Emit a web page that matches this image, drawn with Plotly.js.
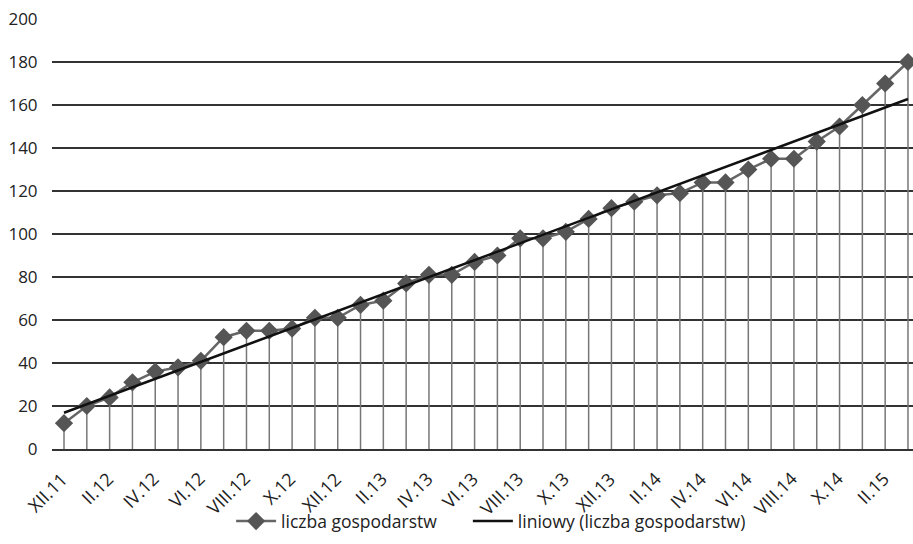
<!DOCTYPE html>
<html>
<head>
<meta charset="utf-8">
<script src="https://cdn.plot.ly/plotly-3.0.1.min.js"></script>
<style>html,body{margin:0;padding:0;background:#fff;}#chart{width:913px;height:544px;}</style>
</head>
<body>
<div id="chart"></div>
<script>
const categories = ["XII.11","I.12","II.12","III.12","IV.12","V.12","VI.12","VII.12","VIII.12","IX.12",
  "X.12","XI.12","XII.12","I.13","II.13","III.13","IV.13","V.13","VI.13","VII.13",
  "VIII.13","IX.13","X.13","XI.13","XII.13","I.14","II.14","III.14","IV.14","V.14",
  "VI.14","VII.14","VIII.14","IX.14","X.14","XI.14","II.15","III.15"];
const values = [12,20,24,31,36,38,41,52,55,55,56,61,61,67,69,77,81,81,87,90,98,98,101,107,112,115,118,119,124,124,130,135,135,143,150,160,170,180];
const yTicks = [0,20,40,60,80,100,120,140,160,180,200];
const seriesName = "liczba gospodarstw";
const trendName = "liniowy (liczba gospodarstw)";

// linear trend (least squares) computed from the data
const n = values.length;
const idx = values.map((_, i) => i);
const mx = idx.reduce((a, b) => a + b, 0) / n;
const my = values.reduce((a, b) => a + b, 0) / n;
let sxy = 0, sxx = 0;
idx.forEach(i => { sxy += (i - mx) * (values[i] - my); sxx += (i - mx) * (i - mx); });
const slope = sxy / sxx, intercept = my - slope * mx;
const trend = idx.map(i => intercept + slope * i);

const tickIdx = idx.filter(i => i % 2 === 0);
const tickText = tickIdx.map(i => categories[i]);

const font = "Open Sans";

const traces = [
  {
    x: idx, y: values, type: 'scatter', mode: 'lines+markers', name: seriesName,
    text: categories, legend: 'legend',
    line: {color: '#666666', width: 2.5},
    marker: {symbol: 'diamond', size: 14, color: '#555555'},
    error_y: {type: 'data', symmetric: false, array: values.map(() => 0), arrayminus: values,
              width: 0, color: '#777777', thickness: 1.5}
  },
  {
    x: idx, y: trend, type: 'scatter', mode: 'lines', name: trendName, legend: 'legend2',
    line: {color: '#111111', width: 2.5}
  }
];

const annotations = tickIdx.map((v, k) => ({
  x: v, y: 0, xref: 'x', yref: 'y', text: tickText[k], showarrow: false,
  textangle: -45, xanchor: 'right', yanchor: 'top', xshift: 11, yshift: -15,
  font: {family: font, size: 18, color: '#222222'}
}));

const legendFont = {family: font, size: 17.5, color: '#222222'};

const layout = {
  width: 913, height: 544,
  margin: {l: 52, r: 0, t: 19, b: 95},
  paper_bgcolor: '#ffffff', plot_bgcolor: '#ffffff',
  font: {family: font, color: '#222222'},
  showlegend: true,
  legend: {orientation: 'h', x: 0.208, xanchor: 'left', y: -0.168, yanchor: 'middle',
           font: legendFont, itemwidth: 40, bgcolor: 'rgba(0,0,0,0)'},
  legend2: {orientation: 'h', x: 0.483, xanchor: 'left', y: -0.168, yanchor: 'middle',
           font: legendFont, itemwidth: 40, bgcolor: 'rgba(0,0,0,0)'},
  annotations: annotations,
  xaxis: {
    type: 'linear', range: [-0.526, 37.22], automargin: false,
    tickmode: 'array', tickvals: tickIdx, showticklabels: false,
    showgrid: false, zeroline: false, showline: true, linecolor: '#333333', linewidth: 1.5, ticks: ''
  },
  yaxis: {
    range: [0, 200], tickmode: 'array', tickvals: yTicks, automargin: false,
    tickfont: {family: font, size: 17, color: '#222222'},
    ticks: 'outside', ticklen: 10, tickcolor: 'rgba(0,0,0,0)',
    showgrid: true, gridcolor: '#333333', gridwidth: 1.3,
    zeroline: false, showline: false
  }
};

Plotly.newPlot('chart', traces, layout, {displayModeBar: false, staticPlot: true});
</script>
</body>
</html>
